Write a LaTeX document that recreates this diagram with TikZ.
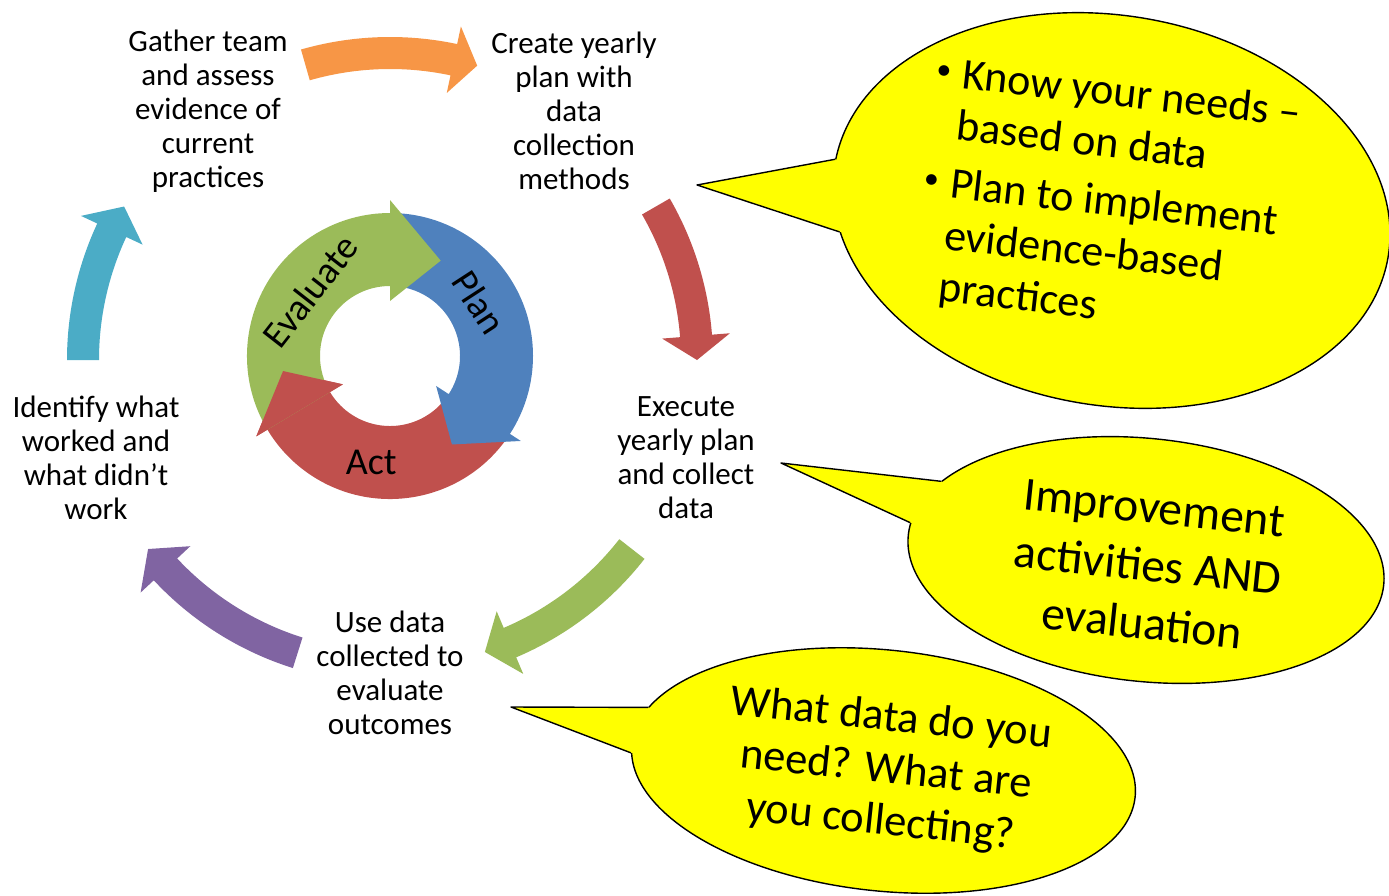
\documentclass[tikz,border=0pt]{standalone}
\usepackage{fontspec}
\setmainfont{Carlito}
\usetikzlibrary{shapes.geometric}
\definecolor{planblue}{HTML}{4F81BD}
\definecolor{actred}{HTML}{C0504D}
\definecolor{evalgreen}{HTML}{9BBB59}
\definecolor{gatherorange}{HTML}{F79646}
\definecolor{usepurple}{HTML}{8064A2}
\definecolor{identteal}{HTML}{4BACC6}
\definecolor{bubbleyellow}{HTML}{FFFF00}

% outer block arrow: colour, tail angle, head base angle, tip angle
\newcommand{\cyclearrow}[4]{%
  \fill[#1] (#2:291) arc[start angle=#2, end angle=#3, radius=291]
    -- (#3:273) -- (#4:307) -- (#3:341) -- (#3:323)
    arc[start angle=#3, end angle=#2, radius=323] -- cycle;}
% inner ring arrow: colour, tail angle, head base angle, tip angle
\newcommand{\ringarrow}[4]{%
  \fill[#1] (#2:143) arc[start angle=#2, end angle=#3, radius=143]
    -- (#3:156) -- (#4:108) -- (#3:55) -- (#3:70)
    arc[start angle=#3, end angle=#2, radius=70] -- cycle;}
\newcommand{\smallbullet}{\raisebox{7pt}{\fontsize{30}{30}\selectfont•}}

\begin{document}
\begin{tikzpicture}[x=1pt, y=1pt,
    stage/.style={align=center, font=\fontsize{31}{34}\selectfont},
    ringtext/.style={font=\fontsize{38}{40}\selectfont},
    bubble/.style={ellipse, draw=black, fill=bubbleyellow, line width=1.4pt, inner sep=0pt},
    bubbletext/.style={align=center, inner sep=0pt},
    pointer/.style={draw=black, line width=1.4pt, line join=round},
  ]
  \useasboundingbox (0,0) rectangle (1389,-895);

  \coordinate (hub) at (390,-360);
  \begin{scope}[shift={(hub)}]
    \cyclearrow{gatherorange}{106}{78}{73.5}
    \cyclearrow{actred}{30}{4.5}{0}
    \cyclearrow{evalgreen}{-38}{-67}{-72}
    \cyclearrow{usepurple}{-107.5}{-137}{-142}
    \cyclearrow{identteal}{180}{155}{150}
  \end{scope}

  \coordinate (ring) at (390,-356);
  \begin{scope}[shift={(ring)}]
    \ringarrow{actred}{-33}{-149}{-172}
    \ringarrow{planblue}{90}{-33}{-55}
    \ringarrow{evalgreen}{211}{90}{62}
    % red head back over the green tail
    \fill[actred] (-149:156) -- (-172:108) -- (-149:55) -- cycle;
    \node[ringtext, rotate=52] (evaluate) at (141:103) {Evaluate};
    \node[ringtext, rotate=-57] (plan) at (31:104) {Plan};
    \node[ringtext] (act) at (-100:108) {Act};
  \end{scope}

  \node[stage] (gather) at (208,-111) {Gather team\\and assess\\evidence of\\current\\practices};
  \node[stage] (create) at (574,-111) {Create yearly\\plan with\\data\\collection\\methods};
  \node[stage] (execute) at (686,-458) {Execute\\yearly plan\\and collect\\data};
  \node[stage] (usedata) at (390,-673) {Use data\\collected to\\evaluate\\outcomes};
  \node[stage] (identify) at (96,-458) {Identify what\\worked and\\what didn’t\\work};

  \node[bubble, rotate=-9.5, minimum width=561pt, minimum height=390pt] (needs) at (1111.5,-210.5) {};
  \coordinate (needstip) at (697,-185);
  \fill[bubbleyellow] (needs.179) -- (needstip) -- (needs.194) -- (needs.center) -- cycle;
  \draw[pointer] (needs.179) -- (needstip) -- (needs.194);
  \node[bubbletext, rotate=-6.5, font=\fontsize{44}{52}\selectfont] (needstext) at (1106,-202)
    {\begin{tabular}{@{}l@{\hspace{12pt}}l@{}}
      \smallbullet & Know your needs –\\
       & based on data\\[6pt]
      \smallbullet & Plan to implement\\
       & evidence-based\\
       & practices
    \end{tabular}};

  \node[bubble, rotate=-6, minimum width=478pt, minimum height=243pt] (improve) at (1146,-560) {};
  \coordinate (improvetip) at (781,-463);
  \fill[bubbleyellow] (improve.165) -- (improvetip) -- (improve.177) -- (improve.center) -- cycle;
  \draw[pointer] (improve.165) -- (improvetip) -- (improve.177);
  \node[bubbletext, rotate=-6, font=\fontsize{47.5}{58}\selectfont] (improvetext) at (1148,-566)
    {Improvement\\activities AND\\evaluation};

  \node[bubble, rotate=-6, minimum width=506pt, minimum height=241pt] (whatdata) at (883.5,-770.5) {};
  \coordinate (whatdatatip) at (511,-707);
  \fill[bubbleyellow] (whatdata.171) -- (whatdatatip) -- (whatdata.182) -- (whatdata.center) -- cycle;
  \draw[pointer] (whatdata.171) -- (whatdatatip) -- (whatdata.182);
  \node[bubbletext, rotate=-6, font=\fontsize{44.5}{52}\selectfont] (whatdatatext) at (886,-771)
    {What data do you\\need? What are\\you collecting?};
\end{tikzpicture}
\end{document}
